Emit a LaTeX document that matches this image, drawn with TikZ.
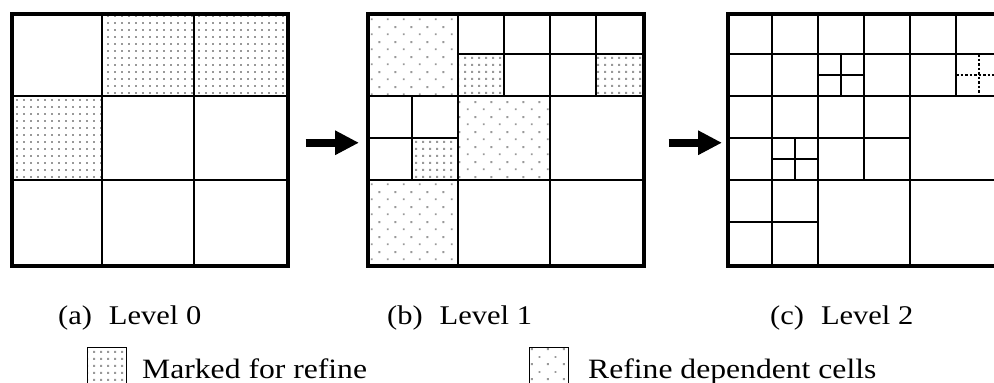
\documentclass[tikz,border=0pt]{standalone}
\usepackage{fontspec}
\usepackage{graphicx}
\setmainfont{Liberation Serif}
\usetikzlibrary{arrows.meta,patterns.meta}

\newcommand{\capwide}[1]{\scalebox{1.13}[1]{#1}}
\newcommand{\legwide}[1]{\scalebox{1.13}[1]{#1}}

\tikzdeclarepattern{name=markdots,type=uncolored,
  bounding box={(0pt,0pt) and (7pt,7pt)},tile size={(7pt,7pt)},
  code={\fill (2.5pt,2.5pt) rectangle (4.5pt,4.5pt);}}
\tikzdeclarepattern{name=depdots,type=uncolored,
  bounding box={(0pt,0pt) and (16pt,15pt)},tile size={(16pt,15pt)},
  code={\fill (3pt,3pt) rectangle (5pt,5pt);\fill (11pt,10.5pt) rectangle (13pt,12.5pt);}}

\begin{document}
\begin{tikzpicture}[x=1pt,y=-1pt,font=\fontsize{27}{32}\selectfont,
  cell/.style={line width=2pt},
  fine/.style={line width=2.5pt,dash pattern=on 2.5pt off 2pt},
  marked/.style={pattern=markdots,pattern color=gray!80},
  depend/.style={pattern=depdots,pattern color=gray!80},
  frame/.style={draw,line width=3.5pt,inner sep=0pt,minimum width=276pt,minimum height=252pt,anchor=north west},
  legbox/.style={draw,line width=1.3pt,inner sep=0pt,minimum width=39pt,minimum height=42pt,anchor=north west},
  caption/.style={anchor=base west,inner sep=0pt},
  legtext/.style={anchor=base west,inner sep=0pt,font=\fontsize{28}{33}\selectfont},
  bigarrow/.style={line width=8pt,-{Triangle[length=24pt,width=23pt]}}
]
\useasboundingbox (0,0) rectangle (994,383);
\clip (0,0) rectangle (994,383);
\fill[marked] (102,12) rectangle (194,96);
\fill[marked] (194,12) rectangle (286,96);
\fill[marked] (10,96) rectangle (102,180);
\draw[cell] (102,12) -- (102,264) (194,12) -- (194,264) (10,96) -- (286,96) (10,180) -- (286,180);
\node[frame] (pa) at (10,12) {};
\fill[depend] (366,12) rectangle (458,96);
\fill[depend] (458,96) rectangle (550,180);
\fill[depend] (366,180) rectangle (458,264);
\fill[marked] (458,54) rectangle (504,96);
\fill[marked] (596,54) rectangle (642,96);
\fill[marked] (412,138) rectangle (458,180);
\draw[cell] (458,12) -- (458,264) (550,12) -- (550,264) (366,96) -- (642,96) (366,180) -- (642,180);
\draw[cell] (504,12) -- (504,96) (596,12) -- (596,96) (458,54) -- (642,54);
\draw[cell] (412,96) -- (412,180) (366,138) -- (458,138);
\node[frame] (pb) at (366,12) {};
\draw[cell] (772,12) -- (772,264) (818,12) -- (818,264) (910,12) -- (910,264) (864,12) -- (864,180) (956,12) -- (956,96);
\draw[cell] (726,54) -- (1002,54) (726,96) -- (1002,96) (726,138) -- (910,138) (726,180) -- (1002,180) (726,222) -- (818,222);
\draw[cell] (841,54) -- (841,96) (818,75) -- (864,75) (795,138) -- (795,180) (772,159) -- (818,159);
\draw[fine] (979,54) -- (979,96) (956,75) -- (1002,75);
\node[frame] (pc) at (726,12) {};
\draw[bigarrow] ([xshift=16pt,yshift=-3pt]pa.east) -- ([xshift=-7pt,yshift=-3pt]pb.west);
\draw[bigarrow] ([xshift=23pt,yshift=-3pt]pb.east) -- ([xshift=-4pt,yshift=-3pt]pc.west);
\node[caption] (capa) at (58,324) {\capwide{(a)\hspace{15pt}Level 0}};
\node[caption] (capb) at (387,324) {\capwide{(b)\hspace{15pt}Level 1}};
\node[caption] (capc) at (770,324) {\capwide{(c)\hspace{15pt}Level 2}};
\node[legbox,marked] (keymark) at (87,347) {};
\node[legtext] (txtmark) at (142,378) {\legwide{Marked for refine}};
\node[legbox,depend] (keydep) at (529,347) {};
\node[legtext] (txtdep) at (588,378) {\legwide{Refine dependent cells}};
\end{tikzpicture}
\end{document}
